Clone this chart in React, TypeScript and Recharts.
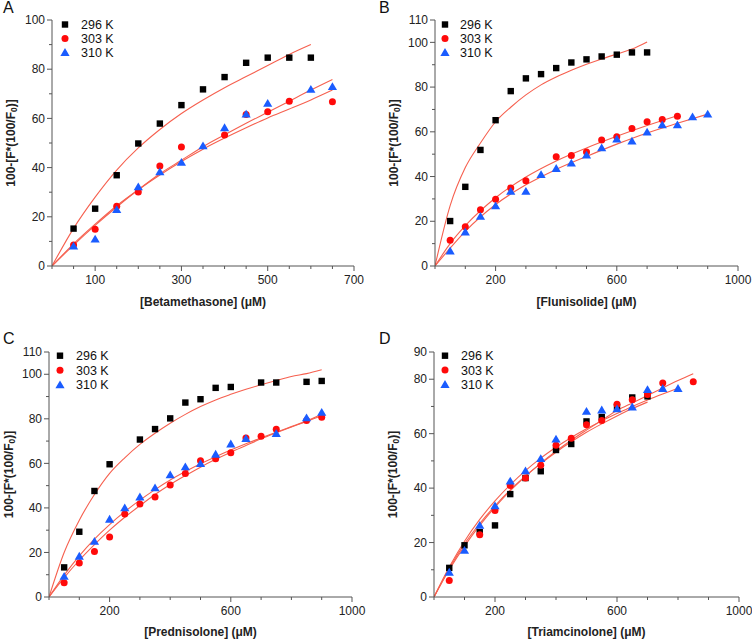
import React from 'react';
import { ComposedChart, Scatter, Line, XAxis, YAxis, Legend, Label } from 'recharts';

// ---------- Panel A: Betamethasone ----------
const aX296 = [50, 100, 150, 200, 250, 300, 350, 400, 450, 500, 550, 600];
const aY296 = [15.2, 23.3, 36.9, 49.8, 57.9, 65.4, 71.8, 76.8, 82.6, 84.7, 84.7, 84.7];
const aX303 = [50, 100, 150, 200, 250, 300, 400, 450, 500, 550, 650];
const aY303 = [8.5, 14.9, 24.3, 30.1, 40.6, 48.4, 53.3, 61.6, 62.7, 67.0, 66.8];
const aX310 = [50, 100, 150, 200, 250, 300, 350, 400, 450, 500, 600, 650];
const aY310 = [8.1, 10.9, 22.9, 32.2, 38.3, 42.1, 48.8, 56.2, 61.7, 66.1, 71.8, 72.9];
const aFitX296 = [0, 50, 100, 150, 200, 250, 300, 350, 400, 450, 500, 550, 600];
const aFitY296 = [0, 15.3, 28, 39, 48, 55.5, 62, 67.5, 72.5, 77, 81.5, 86, 90];
const aFitX303 = [0, 50, 100, 150, 200, 250, 300, 350, 400, 450, 500, 550, 600, 650];
const aFitY303 = [0, 9, 17, 24.5, 31, 37, 42.5, 47.5, 52, 56.2, 60.2, 63.8, 67.5, 71.5];
const aFitX310 = [0, 50, 100, 150, 200, 250, 300, 350, 400, 450, 500, 550, 600, 650];
const aFitY310 = [0, 8.5, 16.5, 24, 31, 37.5, 43, 48.5, 53.3, 58, 62.5, 67, 71.5, 75.8];
const aXTicks = [0, 50, 100, 150, 200, 250, 300, 350, 400, 450, 500, 550, 600, 650, 700];
const aXMajor = [100, 300, 500, 700];
const aYTicks = [0, 10, 20, 30, 40, 50, 60, 70, 80, 90, 100];
const aYMajor = [0, 20, 40, 60, 80, 100];

// ---------- Panel B: Flunisolide ----------
const bX296 = [50, 100, 150, 200, 250, 300, 350, 400, 450, 500, 550, 600, 650, 700];
const bY296 = [20.1, 35.4, 51.9, 65.2, 78.2, 83.9, 85.8, 88.5, 91.0, 92.4, 93.7, 94.5, 95.5, 95.5];
const bX303 = [50, 100, 150, 200, 250, 300, 400, 450, 500, 550, 600, 650, 700, 750, 800];
const bY303 = [11.5, 17.5, 25.2, 29.9, 34.9, 38.1, 48.8, 49.4, 51.0, 56.3, 57.8, 61.5, 64.5, 65.5, 67.0];
const bX310 = [50, 100, 150, 200, 250, 300, 350, 400, 450, 500, 550, 600, 650, 700, 750, 800, 850, 900];
const bY310 = [6.7, 15.2, 22.2, 26.9, 33.4, 33.4, 40.9, 43.6, 46.0, 49.6, 52.8, 56.7, 55.8, 59.9, 63.1, 63.1, 66.7, 67.9];
const bFitX296 = [0, 50, 100, 150, 200, 250, 300, 350, 400, 450, 500, 550, 600, 650, 700];
const bFitY296 = [0, 27, 44, 55, 64.5, 71, 76.5, 81, 84.5, 87.5, 90.2, 92.6, 94.8, 97, 100.2];
const bFitX303 = [0, 50, 100, 200, 300, 400, 500, 600, 700, 800];
const bFitY303 = [0, 10, 18, 30.5, 39.8, 47, 52.8, 58, 62.8, 67.2];
const bFitX310 = [0, 50, 100, 200, 300, 400, 500, 600, 700, 800, 900];
const bFitY310 = [0, 8, 15.5, 27.5, 36.3, 43.2, 49, 54.5, 59.5, 63.8, 67.9];
const bXTicks = [0, 100, 200, 300, 400, 500, 600, 700, 800, 900, 1000];
const bXMajor = [200, 600, 1000];
const bYTicks = [0, 10, 20, 30, 40, 50, 60, 70, 80, 90, 100, 110];
const bYMajor = [0, 20, 40, 60, 80, 100, 110];

// ---------- Panel C: Prednisolone ----------
const cX296 = [50, 100, 150, 200, 300, 350, 400, 450, 500, 550, 600, 700, 750, 850, 900];
const cY296 = [13.3, 29.3, 47.6, 59.6, 70.7, 75.4, 80.2, 87.3, 88.8, 93.9, 94.3, 96.3, 96.3, 96.6, 97.0];
const cX303 = [50, 100, 150, 200, 250, 300, 350, 400, 450, 500, 550, 600, 650, 700, 750, 850, 900];
const cY303 = [6.4, 15.3, 20.4, 26.9, 37.3, 41.8, 44.9, 50.3, 55.4, 61.2, 62.1, 64.8, 71.4, 72.2, 75.3, 79.3, 80.7];
const cX310 = [50, 100, 150, 200, 250, 300, 350, 400, 450, 500, 550, 600, 650, 750, 850, 900];
const cY310 = [9.3, 18.3, 25.0, 34.9, 40.0, 44.9, 49.0, 54.8, 58.4, 59.9, 64.1, 68.7, 71.1, 73.4, 80.4, 82.9];
const cFitX296 = [0, 50, 100, 150, 200, 250, 300, 350, 400, 450, 500, 550, 600, 650, 700, 750, 800, 850, 900];
const cFitY296 = [0, 20, 34.5, 46, 55.5, 62.5, 68.5, 73.5, 78, 82, 85.5, 88.5, 91, 93.3, 95.3, 97.2, 99, 100.3, 102];
const cFitX303 = [0, 50, 100, 150, 200, 250, 300, 350, 400, 450, 500, 550, 600, 650, 700, 750, 800, 850, 900];
const cFitY303 = [0, 8.7, 16.5, 23.5, 30, 35.8, 41, 46, 50.5, 54.5, 58.3, 61.8, 65, 68, 71, 73.7, 76.3, 78.8, 81.5];
const cFitX310 = [0, 50, 100, 150, 200, 250, 300, 350, 400, 450, 500, 550, 600, 650, 700, 750, 800, 850, 900];
const cFitY310 = [0, 9.8, 18.5, 26, 32.5, 38.3, 43.5, 48.2, 52.5, 56.3, 59.8, 63, 66, 68.8, 71.4, 74, 76.5, 79, 82];
const cXTicks = [0, 100, 200, 300, 400, 500, 600, 700, 800, 900, 1000];
const cXMajor = [200, 600, 1000];
const cYTicks = [0, 10, 20, 30, 40, 50, 60, 70, 80, 90, 100, 110];
const cYMajor = [0, 20, 40, 60, 80, 100, 110];

// ---------- Panel D: Triamcinolone ----------
const dX296 = [50, 100, 150, 200, 250, 300, 350, 400, 450, 500, 550, 600, 650, 700];
const dY296 = [10.7, 19.0, 23.8, 26.3, 37.8, 43.7, 46.2, 54.0, 56.2, 64.5, 66.1, 69.8, 73.3, 73.7];
const dX303 = [50, 150, 200, 250, 300, 350, 400, 450, 500, 550, 600, 650, 700, 750, 850];
const dY303 = [6.1, 22.9, 31.8, 41.0, 43.7, 48.4, 55.7, 58.3, 63.3, 64.8, 70.8, 72.5, 74.4, 78.6, 79.1];
const dX310 = [50, 100, 150, 200, 250, 300, 350, 400, 500, 550, 600, 650, 700, 750, 800];
const dY310 = [9.1, 17.1, 26.3, 33.5, 42.6, 46.3, 50.8, 58.0, 68.2, 68.7, 69.1, 69.8, 76.2, 76.6, 76.6];
const dFitX296 = [0, 50, 100, 150, 200, 250, 300, 350, 400, 450, 500, 550, 600, 650, 700];
const dFitY296 = [0, 10.5, 19.5, 27, 33.5, 39.3, 44.5, 49, 53.2, 57, 60.5, 63.6, 66.5, 69.2, 71.6];
const dFitX303 = [0, 50, 100, 150, 200, 250, 300, 350, 400, 450, 500, 550, 600, 650, 700, 750, 800, 850];
const dFitY303 = [0, 10, 18.7, 26.3, 33, 39, 44.3, 49.2, 53.6, 57.6, 61.3, 64.9, 68.5, 71.3, 74, 76.8, 79.5, 82];
const dFitX310 = [0, 50, 100, 150, 200, 250, 300, 350, 400, 450, 500, 550, 600, 650, 700, 750, 800];
const dFitY310 = [0, 11, 20.5, 28.5, 35.3, 41.2, 46.4, 51, 55, 58.6, 61.8, 64.7, 67.4, 70, 72.4, 74.6, 76.7];
const dXTicks = [0, 100, 200, 300, 400, 500, 600, 700, 800, 900, 1000];
const dXMajor = [200, 600, 1000];
const dYTicks = [0, 10, 20, 30, 40, 50, 60, 70, 80, 90];
const dYMajor = [0, 20, 40, 60, 80, 90];

const seriesNames = ['296 K', '303 K', '310 K'];

// ---------- styles ----------
const FONT = '"Liberation Sans", Arial, Helvetica, sans-serif';
const AXIS = '#555555';
const TXT = '#222222';
const FIT = '#f6604f';
const COL296 = '#000000';
const COL303 = '#ff0a0a';
const COL310 = '#1a5cff';

type Pt = { x: number; y: number };
const zip = (xs: number[], ys: number[]): Pt[] => xs.map((x, i) => ({ x, y: ys[i] }));

const SquareMark = (p: any) =>
  p.cx == null ? <g /> : <rect x={p.cx - 3.2} y={p.cy - 3.2} width={6.4} height={6.4} fill={COL296} />;
const CircleMark = (p: any) =>
  p.cx == null ? <g /> : <circle cx={p.cx} cy={p.cy} r={3.5} fill={COL303} />;
const TriMark = (p: any) =>
  p.cx == null ? (
    <g />
  ) : (
    <path
      d={`M${p.cx},${p.cy - 4.4} L${p.cx + 4.6},${p.cy + 3.4} L${p.cx - 4.6},${p.cy + 3.4} Z`}
      fill={COL310}
    />
  );

interface PanelCfg {
  letter: string;
  left: number;
  top: number;
  width: number;
  height: number;
  marginTop: number;
  marginRight: number;
  yAxisWidth: number;
  xAxisHeight: number;
  xMax: number;
  yMax: number;
  xTicks: number[];
  xMajor: number[];
  yTicks: number[];
  yMajor: number[];
  xTitle: string;
  yTitleX: number;
  xTitleDy: number;
  letterY: number;
  legX: number;
  legTextX: number;
  legY: number;
  legStep: number;
  s296: Pt[];
  s303: Pt[];
  s310: Pt[];
  f296: Pt[];
  f303: Pt[];
  f310: Pt[];
}

const panels: PanelCfg[] = [
  {
    letter: 'A', left: 0, top: 0, width: 376, height: 320,
    marginTop: 20, marginRight: 22, yAxisWidth: 52, xAxisHeight: 54,
    xMax: 700, yMax: 100, xTicks: aXTicks, xMajor: aXMajor, yTicks: aYTicks, yMajor: aYMajor,
    xTitle: '[Betamethasone] (\u03bcM)', yTitleX: 11, xTitleDy: 40, letterY: 14,
    legX: 65, legTextX: 81, legY: 24.5, legStep: 14,
    s296: zip(aX296, aY296), s303: zip(aX303, aY303), s310: zip(aX310, aY310),
    f296: zip(aFitX296, aFitY296), f303: zip(aFitX303, aFitY303), f310: zip(aFitX310, aFitY310),
  },
  {
    letter: 'B', left: 376, top: 0, width: 376, height: 320,
    marginTop: 20, marginRight: 14, yAxisWidth: 59, xAxisHeight: 54,
    xMax: 1000, yMax: 110, xTicks: bXTicks, xMajor: bXMajor, yTicks: bYTicks, yMajor: bYMajor,
    xTitle: '[Flunisolide] (\u03bcM)', yTitleX: 18, xTitleDy: 40, letterY: 14,
    legX: 69, legTextX: 84, legY: 24.5, legStep: 14,
    s296: zip(bX296, bY296), s303: zip(bX303, bY303), s310: zip(bX310, bY310),
    f296: zip(bFitX296, bFitY296), f303: zip(bFitX303, bFitY303), f310: zip(bFitX310, bFitY310),
  },
  {
    letter: 'C', left: 0, top: 320, width: 376, height: 319,
    marginTop: 32, marginRight: 24, yAxisWidth: 49, xAxisHeight: 42,
    xMax: 1000, yMax: 110, xTicks: cXTicks, xMajor: cXMajor, yTicks: cYTicks, yMajor: cYMajor,
    xTitle: '[Prednisolone] (\u03bcM)', yTitleX: 9, xTitleDy: 39, letterY: 25,
    legX: 60, legTextX: 76, legY: 35.7, legStep: 14.6,
    s296: zip(cX296, cY296), s303: zip(cX303, cY303), s310: zip(cX310, cY310),
    f296: zip(cFitX296, cFitY296), f303: zip(cFitX303, cFitY303), f310: zip(cFitX310, cFitY310),
  },
  {
    letter: 'D', left: 376, top: 320, width: 376, height: 319,
    marginTop: 32, marginRight: 13, yAxisWidth: 58, xAxisHeight: 42,
    xMax: 1000, yMax: 90, xTicks: dXTicks, xMajor: dXMajor, yTicks: dYTicks, yMajor: dYMajor,
    xTitle: '[Triamcinolone] (\u03bcM)', yTitleX: 17, xTitleDy: 39, letterY: 25,
    legX: 69, legTextX: 85, legY: 35.7, legStep: 14.4,
    s296: zip(dX296, dY296), s303: zip(dX303, dY303), s310: zip(dX310, dY310),
    f296: zip(dFitX296, dFitY296), f303: zip(dFitX303, dFitY303), f310: zip(dFitX310, dFitY310),
  },
];

function makeXTick(major: number[]) {
  return (props: any) => {
    const { x, y, payload } = props;
    const isMajor = major.includes(payload.value);
    return (
      <g>
        <line x1={x} y1={y} x2={x} y2={y + (isMajor ? 5 : 3)} stroke={AXIS} strokeWidth={1} />
        {isMajor && (
          <text x={x} y={y + 17.5} textAnchor="middle" fontSize={12} fontFamily={FONT} fill={TXT}>
            {payload.value}
          </text>
        )}
      </g>
    );
  };
}

function makeYTick(major: number[]) {
  return (props: any) => {
    const { x, y, payload } = props;
    const isMajor = major.includes(payload.value);
    return (
      <g>
        <line x1={x} y1={y} x2={x - (isMajor ? 5 : 3)} y2={y} stroke={AXIS} strokeWidth={1} />
        {isMajor && (
          <text x={x - 7} y={y + 4.2} textAnchor="end" fontSize={12} fontFamily={FONT} fill={TXT}>
            {payload.value}
          </text>
        )}
      </g>
    );
  };
}

function Panel({ cfg }: { cfg: PanelCfg }) {
  const plotLeft = cfg.yAxisWidth;
  const plotRight = cfg.width - cfg.marginRight;
  const plotTop = cfg.marginTop;
  const plotBottom = cfg.height - cfg.xAxisHeight;
  const midX = (plotLeft + plotRight) / 2;
  const midY = (plotTop + plotBottom) / 2;

  const legendContent = () => (
    <svg width={cfg.width} height={80} style={{ display: 'block' }}>
      {seriesNames.map((name, i) => {
        const cy = cfg.legY + i * cfg.legStep;
        const mark =
          i === 0 ? (
            <rect x={cfg.legX - 3.2} y={cy - 3.2} width={6.4} height={6.4} fill={COL296} />
          ) : i === 1 ? (
            <circle cx={cfg.legX} cy={cy} r={3.5} fill={COL303} />
          ) : (
            <path
              d={`M${cfg.legX},${cy - 4.4} L${cfg.legX + 4.6},${cy + 3.4} L${cfg.legX - 4.6},${cy + 3.4} Z`}
              fill={COL310}
            />
          );
        return (
          <g key={name}>
            {mark}
            <text x={cfg.legTextX} y={cy + 4.5} fontSize={12.5} fontFamily={FONT} fill="#111">
              {name}
            </text>
          </g>
        );
      })}
    </svg>
  );

  return (
    <div style={{ position: 'absolute', left: cfg.left, top: cfg.top, width: cfg.width, height: cfg.height }}>
      <ComposedChart
        width={cfg.width}
        height={cfg.height}
        margin={{ top: cfg.marginTop, right: cfg.marginRight, bottom: 0, left: 0 }}
      >
        <XAxis
          type="number"
          dataKey="x"
          domain={[0, cfg.xMax]}
          ticks={cfg.xTicks}
          interval={0}
          allowDataOverflow
          height={cfg.xAxisHeight}
          tickSize={0}
          tickMargin={0}
          tickLine={false}
          axisLine={{ stroke: AXIS, strokeWidth: 1 }}
          tick={makeXTick(cfg.xMajor)}
        >
          <Label
            content={() => (
              <text
                x={midX}
                y={plotBottom + cfg.xTitleDy}
                textAnchor="middle"
                fontSize={12}
                fontWeight="bold"
                fontFamily={FONT}
                fill={TXT}
              >
                {cfg.xTitle}
              </text>
            )}
          />
        </XAxis>
        <YAxis
          type="number"
          dataKey="y"
          domain={[0, cfg.yMax]}
          ticks={cfg.yTicks}
          interval={0}
          allowDataOverflow
          width={cfg.yAxisWidth}
          tickSize={0}
          tickMargin={0}
          tickLine={false}
          axisLine={{ stroke: AXIS, strokeWidth: 1 }}
          tick={makeYTick(cfg.yMajor)}
        >
          <Label
            content={() => (
              <text
                transform={`translate(${cfg.yTitleX},${midY}) rotate(-90)`}
                textAnchor="middle"
                dominantBaseline="central"
                fontSize={12}
                fontWeight="bold"
                fontFamily={FONT}
                fill={TXT}
              >
                100-[F*(100/F
                <tspan fontSize={8.5} dy={3}>
                  0
                </tspan>
                <tspan dy={-3}>)]</tspan>
              </text>
            )}
          />
        </YAxis>
        <Scatter name="296 K" data={cfg.s296} shape={SquareMark} isAnimationActive={false} />
        <Scatter name="303 K" data={cfg.s303} shape={CircleMark} isAnimationActive={false} />
        <Scatter name="310 K" data={cfg.s310} shape={TriMark} isAnimationActive={false} />
        <Line data={cfg.f296} dataKey="y" type="monotone" stroke={FIT} strokeWidth={1.1} dot={false} activeDot={false} isAnimationActive={false} legendType="none" />
        <Line data={cfg.f303} dataKey="y" type="monotone" stroke={FIT} strokeWidth={1.1} dot={false} activeDot={false} isAnimationActive={false} legendType="none" />
        <Line data={cfg.f310} dataKey="y" type="monotone" stroke={FIT} strokeWidth={1.1} dot={false} activeDot={false} isAnimationActive={false} legendType="none" />
        <Legend
          layout="vertical"
          align="center"
          verticalAlign="middle"
          content={legendContent}
          wrapperStyle={{ position: 'absolute', left: 0, top: 0, width: cfg.width, height: 80, pointerEvents: 'none' }}
        />
      </ComposedChart>
      <div
        style={{
          position: 'absolute',
          left: 3,
          top: cfg.letterY - 14,
          fontFamily: FONT,
          fontSize: 16,
          lineHeight: '16px',
          color: '#111',
        }}
      >
        {cfg.letter}
      </div>
    </div>
  );
}

export default function App() {
  return (
    <div style={{ position: 'absolute', left: 0, top: 0, width: 752, height: 639, background: '#ffffff', fontFamily: FONT }}>
      {panels.map((p) => (
        <Panel key={p.letter} cfg={p} />
      ))}
    </div>
  );
}
